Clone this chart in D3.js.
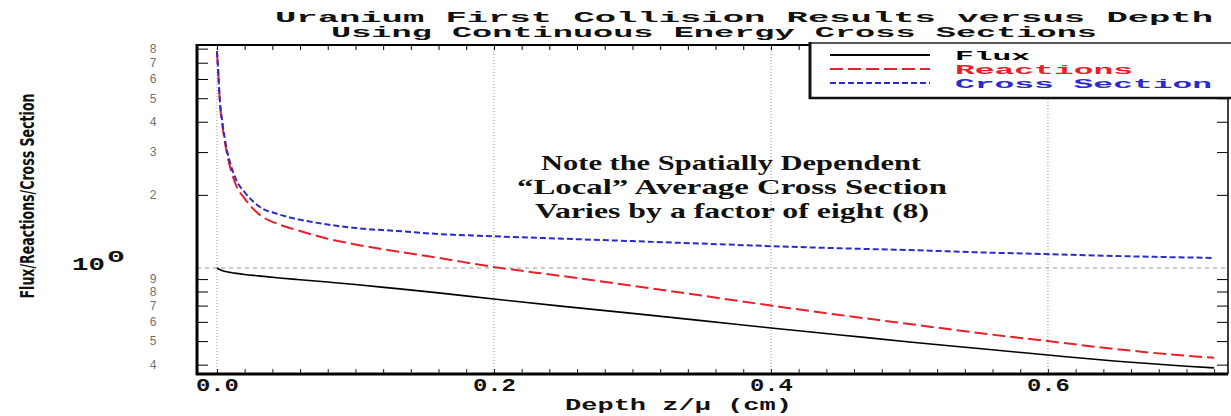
<!DOCTYPE html>
<html>
<head>
<meta charset="utf-8">
<script src="https://cdn.jsdelivr.net/npm/d3@7"></script>
<style>
  body { margin: 0; background: #fff; }
  svg { display: block; }
</style>
</head>
<body>
<svg width="1231" height="416"></svg>
<script>
// values
const depth = [0, 0.0007, 0.002, 0.004, 0.007, 0.01, 0.014, 0.02, 0.03, 0.045, 0.06, 0.08, 0.1, 0.13,
  0.16, 0.2, 0.25, 0.3, 0.35, 0.4, 0.45, 0.5, 0.55, 0.6, 0.65, 0.7, 0.72];
const flux = [1.0, 0.995, 0.985, 0.975, 0.965, 0.958, 0.95, 0.94, 0.928, 0.91, 0.895, 0.875, 0.855, 0.822,
  0.79, 0.745, 0.695, 0.65, 0.607, 0.566, 0.53, 0.496, 0.466, 0.438, 0.413, 0.394, 0.388];
const reactions = [7.8, 6.75, 4.9, 3.85, 3.0, 2.54, 2.18, 1.93, 1.67, 1.51, 1.42, 1.32, 1.25, 1.17,
  1.10, 1.01, 0.925, 0.845, 0.77, 0.70, 0.64, 0.588, 0.54, 0.50, 0.463, 0.435, 0.427];
const crossSection = [7.8, 6.8, 5.0, 3.95, 3.1, 2.65, 2.3, 2.05, 1.8, 1.66, 1.58, 1.51, 1.46, 1.42,
  1.38, 1.35, 1.32, 1.29, 1.26, 1.23, 1.205, 1.185, 1.16, 1.14, 1.12, 1.105, 1.10];

const seriesNames = ["Flux", "Reactions", "Cross Section"];
const xMajor = [0, 0.2, 0.4, 0.6];
const xMajorLabels = ["0.0", "0.2", "0.4", "0.6"];
const yMinor = [0.4, 0.5, 0.6, 0.7, 0.8, 0.9, 2, 3, 4, 5, 6, 7, 8];
const yMinorLabels = ["4", "5", "6", "7", "8", "9", "2", "3", "4", "5", "6", "7", "8"];
const titleLines = ["Uranium First Collision Results versus Depth", "Using Continuous Energy Cross Sections"];
const noteLines = ["Note the Spatially Dependent", "\u201CLocal\u201D Average Cross Section", "Varies by a factor of eight (8)"];

const margin = { top: 45, right: 3, bottom: 42, left: 197 };
const width = 1231, height = 416;
const mono = "'Liberation Mono', 'DejaVu Sans Mono', monospace";

const svg = d3.select("svg");

const x = d3.scaleLinear()
  .domain([-0.0144, 0.73])
  .range([margin.left, width - margin.right]);

const y = d3.scaleLog()
  .domain([0.366, 8.28])
  .range([height - margin.bottom, margin.top]);

// grid lines
svg.append("g").selectAll("line")
  .data(xMajor)
  .join("line")
  .attr("x1", d => x(d)).attr("x2", d => x(d))
  .attr("y1", margin.top).attr("y2", height - margin.bottom)
  .attr("stroke", "#999").attr("stroke-width", 1).attr("stroke-dasharray", "1,2");

svg.append("line")
  .attr("x1", margin.left).attr("x2", width - margin.right)
  .attr("y1", y(1)).attr("y2", y(1))
  .attr("stroke", "#999").attr("stroke-width", 1).attr("stroke-dasharray", "4,4");

// axes
const minorX = d3.range(0, 37).map(i => +(i * 0.02).toFixed(2));

const gBottom = svg.append("g")
  .attr("transform", `translate(0,${height - margin.bottom})`)
  .call(d3.axisBottom(x).tickValues(minorX).tickSizeInner(-5).tickSizeOuter(0).tickPadding(4)
    .tickFormat(d => { const i = xMajor.indexOf(d); return i >= 0 ? xMajorLabels[i] : ""; }));
gBottom.select(".domain").remove();
gBottom.selectAll("line").attr("stroke", "#222");
gBottom.selectAll("text")
  .attr("font-family", mono).attr("font-weight", "bold").attr("font-size", 18).attr("fill", "#111")
  .attr("dy", "0.72em")
  .filter(function () { return this.textContent !== ""; })
  .attr("textLength", 43).attr("lengthAdjust", "spacingAndGlyphs");

const gTop = svg.append("g")
  .attr("transform", `translate(0,${margin.top})`)
  .call(d3.axisTop(x).tickValues(minorX).tickSizeInner(-5).tickSizeOuter(0).tickFormat(""));
gTop.select(".domain").remove();

const gLeft = svg.append("g")
  .attr("transform", `translate(${margin.left},0)`)
  .call(d3.axisLeft(y).tickValues(yMinor).tickSizeInner(-11).tickSizeOuter(0).tickPadding(44)
    .tickFormat(d => yMinorLabels[yMinor.indexOf(d)]));
gLeft.select(".domain").remove();
gLeft.selectAll("text")
  .attr("text-anchor", "middle")
  .attr("font-family", mono).attr("font-size", 12).attr("fill", "#707070");

const gRight = svg.append("g")
  .attr("transform", `translate(${width - margin.right},0)`)
  .call(d3.axisRight(y).tickValues(yMinor).tickSizeInner(-11).tickSizeOuter(0).tickFormat(""));
gRight.select(".domain").remove();

// 10^0 label
const lab = svg.append("g").attr("font-family", mono).attr("font-weight", "bold").attr("fill", "#111");
lab.append("text").attr("x", 72).attr("y", y(1) + 2).attr("font-size", 19)
  .attr("textLength", 33).attr("lengthAdjust", "spacingAndGlyphs").text("10");
lab.append("text").attr("x", 107).attr("y", y(1) - 6).attr("font-size", 17)
  .attr("textLength", 18).attr("lengthAdjust", "spacingAndGlyphs").text("0");

// curves
const line = d3.line()
  .x((d, i) => x(depth[i]))
  .y(d => y(d))
  .curve(d3.curveMonotoneX);

svg.append("path").datum(flux)
  .attr("fill", "none").attr("stroke", "#000").attr("stroke-width", 1.6).attr("d", line);
svg.append("path").datum(reactions)
  .attr("fill", "none").attr("stroke", "#e8202a").attr("stroke-width", 2).attr("stroke-dasharray", "13,5").attr("d", line);
svg.append("path").datum(crossSection)
  .attr("fill", "none").attr("stroke", "#2a2ad0").attr("stroke-width", 2).attr("stroke-dasharray", "6,3").attr("d", line);

// frame
svg.append("line").attr("x1", margin.left).attr("x2", margin.left)
  .attr("y1", margin.top - 1).attr("y2", height - margin.bottom + 1)
  .attr("stroke", "#000").attr("stroke-width", 3);
svg.append("line").attr("x1", margin.left - 1).attr("x2", width - margin.right)
  .attr("y1", height - margin.bottom).attr("y2", height - margin.bottom)
  .attr("stroke", "#000").attr("stroke-width", 3);
svg.append("line").attr("x1", margin.left).attr("x2", width - margin.right)
  .attr("y1", margin.top).attr("y2", margin.top)
  .attr("stroke", "#000").attr("stroke-width", 2);
svg.append("line").attr("x1", width - margin.right).attr("x2", width - margin.right)
  .attr("y1", margin.top).attr("y2", height - margin.bottom)
  .attr("stroke", "#000").attr("stroke-width", 1.5);

// legend
const legend = svg.append("g");
legend.append("rect").attr("x", 810).attr("y", 43).attr("width", 430).attr("height", 55)
  .attr("fill", "#fff").attr("stroke", "#222").attr("stroke-width", 1.5);
legend.append("line").attr("x1", 810).attr("x2", 810).attr("y1", 42).attr("y2", 99)
  .attr("stroke", "#111").attr("stroke-width", 3);
legend.append("line").attr("x1", 809).attr("x2", 1231).attr("y1", 98).attr("y2", 98)
  .attr("stroke", "#111").attr("stroke-width", 2.5);

const legColors = ["#000", "#e8202a", "#2a2ad0"];
const legDash = [null, "13,5", "6,3"];
const legLen = [75, 178, 257];
seriesNames.forEach((name, i) => {
  const ly = 55 + i * 14;
  legend.append("line").attr("x1", 830).attr("x2", 930).attr("y1", ly).attr("y2", ly)
    .attr("stroke", legColors[i]).attr("stroke-width", 1.8).attr("stroke-dasharray", legDash[i]);
  legend.append("text").attr("x", 955).attr("y", ly + 5)
    .attr("font-family", mono).attr("font-weight", "bold").attr("font-size", 13.5)
    .attr("fill", legColors[i])
    .attr("textLength", legLen[i]).attr("lengthAdjust", "spacingAndGlyphs")
    .text(name);
});

// title
const titleX = [275, 331];
const titleLen = [938, 766];
titleLines.forEach((t, i) => {
  svg.append("text").attr("x", titleX[i]).attr("y", 22 + i * 15)
    .attr("font-family", mono).attr("font-weight", "bold").attr("font-size", 15).attr("fill", "#111")
    .attr("textLength", titleLen[i]).attr("lengthAdjust", "spacingAndGlyphs")
    .text(t);
});

// axis titles
svg.append("text").attr("x", 565).attr("y", 410)
  .attr("font-family", mono).attr("font-weight", "bold").attr("font-size", 16).attr("fill", "#111")
  .attr("textLength", 227).attr("lengthAdjust", "spacingAndGlyphs")
  .text("Depth z/\u03BC (cm)");

svg.append("text")
  .attr("transform", "translate(34,196) rotate(-90)")
  .attr("text-anchor", "middle")
  .attr("font-family", "'Liberation Sans Narrow', 'DejaVu Sans Condensed', 'Liberation Sans', sans-serif")
  .attr("font-weight", "bold").attr("font-size", 20).attr("fill", "#111")
  .attr("textLength", 205).attr("lengthAdjust", "spacingAndGlyphs")
  .text("Flux/Reactions/Cross Section");

// annotation
const noteX = [541, 517, 535];
const noteLen = [380, 430, 394];
noteLines.forEach((t, i) => {
  svg.append("text").attr("x", noteX[i]).attr("y", 170 + i * 24)
    .attr("font-family", "'Liberation Serif', 'Times New Roman', serif")
    .attr("font-weight", "bold").attr("font-size", 21).attr("fill", "#111")
    .attr("textLength", noteLen[i]).attr("lengthAdjust", "spacingAndGlyphs")
    .text(t);
});
</script>
</body>
</html>
